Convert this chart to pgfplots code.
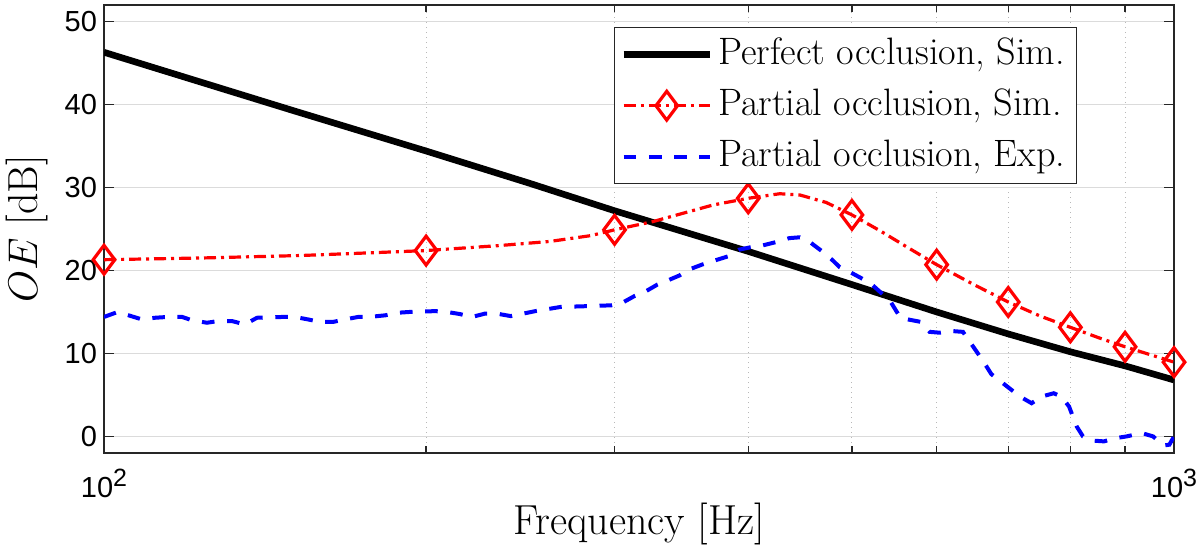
\documentclass[border=0pt]{standalone}
\usepackage{fontspec}
\newfontfamily\arial{Liberation Sans}
\usepackage{pgfplots}
\pgfplotsset{compat=1.18}
\definecolor{axgray}{gray}{0.15}
\definecolor{gridgray}{gray}{0.86}
\definecolor{mgridgray}{gray}{0.72}
\begin{document}
\begin{tikzpicture}
\useasboundingbox (-52pt,-48pt) rectangle (548pt,226.5pt);
\begin{axis}[
  at={(0pt,0pt)}, anchor=south west,
  scale only axis, width=535pt, height=224pt,
  xmode=log, xmin=100, xmax=1000, ymin=-2, ymax=52,
  xtick={100,1000},
  xticklabels={10\raisebox{5.7pt}{\fontsize{12.5}{14}\selectfont 2},10\raisebox{5.7pt}{\fontsize{12.5}{14}\selectfont 3}},
  minor xtick={200,300,400,500,600,700,800,900},
  ytick={0,10,20,30,40,50},
  /pgf/number format/assume math mode=true,
  tick label style={font=\arial\fontsize{14.5}{17}\selectfont},
  xticklabel style={yshift=-4.5pt},
  tick align=inside, tick pos=both,
  major tick length=5pt, minor tick length=3.5pt,
  every tick/.style={axgray, line width=0.6pt},
  axis line style={axgray, line width=0.7pt},
  ymajorgrids, xminorgrids,
  major grid style={gridgray, line width=0.5pt},
  minor grid style={mgridgray, line width=0.5pt, dotted},
  xlabel={Frequency [Hz]},
  ylabel={$OE$ [dB]},
  label style={font=\fontsize{21}{25}\selectfont},
  xlabel style={at={(axis description cs:0.5,-0.1116)}, anchor=north, inner sep=0pt},
  ylabel style={at={(axis description cs:-0.0523,0.5)}, anchor=south, inner sep=0pt},
  legend style={at={(axis description cs:0.9093,0.9509)}, anchor=north east,
    font=\fontsize{19.1}{22}\selectfont, draw=axgray, line width=0.6pt, fill=white,
    inner xsep=3pt, inner ysep=4.5pt, row sep=8pt,
    nodes={inner xsep=2.5pt, inner ysep=0pt, text height=13.8pt, text depth=3.9pt}},
  legend cell align=left,
  legend image code/.code={\draw[#1, mark indices={2}] plot coordinates {(0pt,0pt) (21.5pt,0pt) (43pt,0pt)};},
]
\addplot[black, line width=3.3pt] coordinates {
(100,46.3) (150,39.3) (200,34.4) (250,30.5) (300,27.2) (400,22.3) (500,18.3)
(600,15.0) (700,12.35) (800,10.2) (900,8.5) (1000,6.8)
};
\addlegendentry{Perfect occlusion, Sim.}
\addplot[red, line width=1.6pt, dash pattern=on 6pt off 2.5pt on 1.5pt off 2.5pt,
  mark=diamond, mark size=7.2pt, mark options={solid, fill=none, line width=1.6pt},
  mark indices={1,5,9,13,17,20,22,24,26,28}] coordinates {
(100,21.3) (122.9,21.5) (152.5,21.8) (175,22.1) (200,22.4) (234,23.0) (261,23.5)
(285,24.2) (300,24.9) (326,25.9) (350,27.0) (371,27.9) (400,28.7) (428,29.25)
(447,29.1) (473,28.2) (500,26.7) (531,24.8) (565,22.7) (600,20.7) (650,18.3)
(700,16.2) (750,14.5) (800,13.15) (850,11.9) (900,10.8) (950,9.85) (1000,8.95)
};
\addlegendentry{Partial occlusion, Sim.}
\addplot[blue, line width=2pt, dash pattern=on 6.3pt off 6.3pt] coordinates {
(100,14.4) (103,15.0) (106,14.5) (108.5,14.1) (111.6,14.3) (114.7,14.4) (118.3,14.4)
(120.8,14.0) (124.8,13.7) (127.8,13.9) (131.7,13.9) (135.4,13.5) (139,14.3) (147,14.4)
(150.8,14.4) (155.1,14.1) (159.2,13.8) (163.7,13.8) (168,14.1) (172.8,14.4) (177.1,14.4)
(183.3,14.6) (187.9,14.9) (193.1,15.0) (204,15.1) (209.2,15.0) (215,14.75) (220.8,14.4)
(227,14.8) (234,14.75) (240,14.5) (253,15.1) (267,15.6) (283,15.7) (298,15.8) (305,16.1)
(313,16.9) (320,17.4) (329,18.3) (335,18.7) (345,19.4) (352,20.1) (362,20.7) (370,21.1)
(383,21.7) (392,22.5) (402,22.8) (412,23.0) (427,23.5) (437,23.9) (447,24.0) (457,23.4)
(469,22.3) (479,21.3) (487,20.4) (498,19.8) (520,18.5) (543,16.3) (555,14.3) (564,14.1)
(580,13.8) (591,12.6) (604,12.5) (620,12.7) (635,12.6) (663,9.1) (675,7.5) (718,4.8)
(736,4.0) (752,4.8) (772,5.2) (785,4.8) (798,3.6) (811,1.2) (822,0.0) (838,-0.5)
(860,-0.6) (883,-0.2) (903,0.0) (933,0.4) (956,0.0) (977,-1.1) (990,-1.0) (1000,0)
};
\addlegendentry{Partial occlusion, Exp.}
\end{axis}
\end{tikzpicture}
\end{document}
